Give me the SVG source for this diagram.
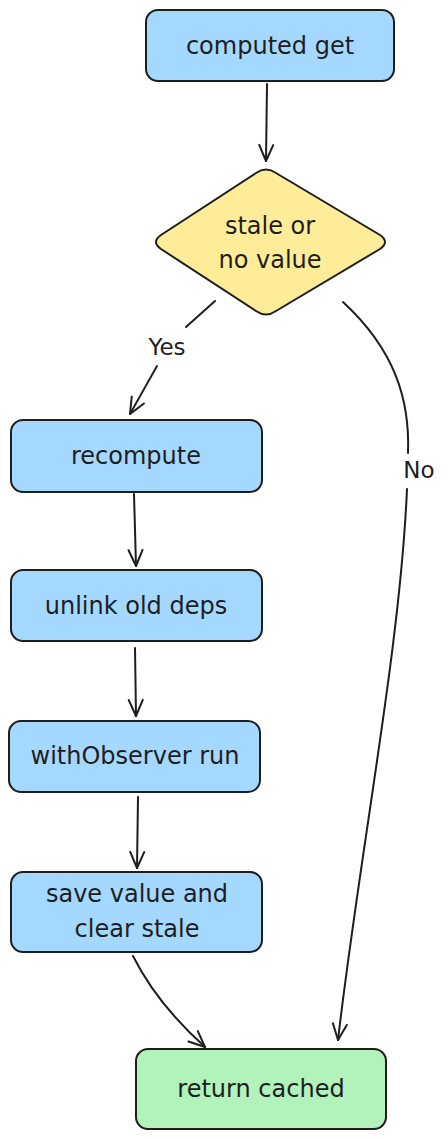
<svg xmlns="http://www.w3.org/2000/svg" width="446" height="1139" viewBox="0 0 446 1139">
<style>
.box{stroke:#1e1e1e;stroke-width:2;}
.blue{fill:#a5d8ff;}
.yellow{fill:#ffec99;}
.green{fill:#b2f2bb;}
.lbl{font-family:"DejaVu Sans","Liberation Sans",sans-serif;font-size:24px;fill:#1e1e1e;text-anchor:middle;dominant-baseline:central;}
.edge{fill:none;stroke:#1e1e1e;stroke-width:2;stroke-linecap:round;}
.elbl{font-family:"DejaVu Sans","Liberation Sans",sans-serif;font-size:23px;fill:#1e1e1e;text-anchor:middle;dominant-baseline:central;}
</style>
<defs>
<marker id="arr" viewBox="0 0 20 20" refX="18" refY="10" markerWidth="20" markerHeight="20" markerUnits="userSpaceOnUse" orient="auto">
<polyline points="2,3 18,10 2,17" fill="none" stroke="#1e1e1e" stroke-width="2" stroke-linecap="round" stroke-linejoin="round"/>
</marker>
</defs>
<rect width="446" height="1139" fill="#ffffff"/>
<g id="connectors">
<path class="edge" d="M267,84 L266,161" marker-end="url(#arr)"/>
<path class="edge" d="M215,301 L186,327"/>
<path class="edge" d="M157,366 L130,414" marker-end="url(#arr)"/>
<path class="edge" d="M343,302 C395,350 410,400 408,453"/>
<path class="edge" d="M407,489 C400,650 360,850 338,1040" marker-end="url(#arr)"/>
<path class="edge" d="M134,494 L136,566" marker-end="url(#arr)"/>
<path class="edge" d="M135,648 L136,716" marker-end="url(#arr)"/>
<path class="edge" d="M138,797 L137,868" marker-end="url(#arr)"/>
<path class="edge" d="M133,956 C150,990 175,1020 205,1047" marker-end="url(#arr)"/>
<text class="elbl" x="167" y="347">Yes</text>
<text class="elbl" x="419" y="470">No</text>
</g>
<g id="n_computed_get">
<rect class="box blue" x="146" y="10" width="248" height="71" rx="12"/>
<text class="lbl" x="270" y="46">computed get</text>
</g>
<g id="n_stale">
<path class="box yellow" d="M256,173 Q266,166 276,173 L380,235 Q390,242 380,249 L276,311 Q266,318 256,311 L161,249 Q151,242 161,235 Z"/>
<text class="lbl" x="270" y="226">stale or</text>
<text class="lbl" x="270" y="260">no value</text>
</g>
<g id="n_recompute">
<rect class="box blue" x="11" y="420" width="251" height="72" rx="12"/>
<text class="lbl" x="136" y="456">recompute</text>
</g>
<g id="n_unlink">
<rect class="box blue" x="11" y="570" width="251" height="71" rx="12"/>
<text class="lbl" x="136" y="606">unlink old deps</text>
</g>
<g id="n_withobserver">
<rect class="box blue" x="9" y="721" width="251" height="71" rx="12"/>
<text class="lbl" x="135" y="756">withObserver run</text>
</g>
<g id="n_save">
<rect class="box blue" x="11" y="872" width="251" height="80" rx="12"/>
<text class="lbl" x="137" y="894">save value and</text>
<text class="lbl" x="137" y="929">clear stale</text>
</g>
<g id="n_return">
<rect class="box green" x="136" y="1049" width="250" height="80" rx="12"/>
<text class="lbl" x="261" y="1089">return cached</text>
</g>
</svg>
